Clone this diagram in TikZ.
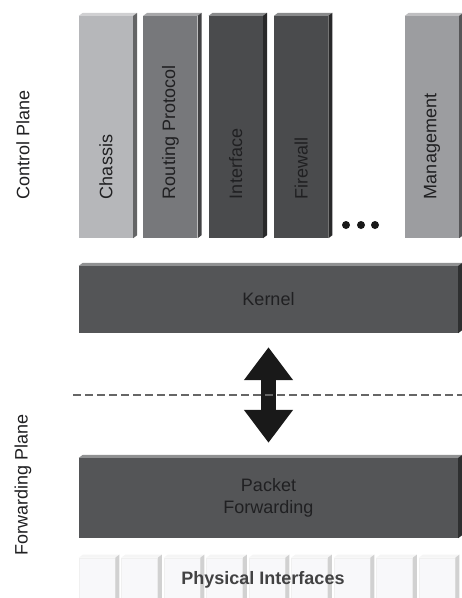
\documentclass[tikz,border=0pt]{standalone}
\usepackage{fontspec}
\setmainfont{Liberation Sans}
\usetikzlibrary{arrows.meta, positioning, calc}
\definecolor{clight}{HTML}{B6B7BA}
\definecolor{cmid}{HTML}{77787B}
\definecolor{cdark}{HTML}{4A4B4D}
\definecolor{cmgmt}{HTML}{9C9DA0}
\definecolor{ccore}{HTML}{545557}
\definecolor{ctile}{HTML}{F8F8FA}
\definecolor{ctext}{HTML}{202022}
\tikzset{
  every picture/.style={font=\fontsize{18}{22}\selectfont},
  slab/.style={fill=#1, inner sep=0pt, align=center},
  col/.style={slab=#1, minimum width=54pt, minimum height=222pt},
  wide/.style={slab=ccore, minimum width=379pt},
  lbl/.style={rotate=90, anchor=west, inner sep=0pt, text=ctext},
  plane/.style={rotate=90, text=ctext},
  fat/.style={draw=black!90, line width=15pt, {Triangle[length=33pt, width=47pt]}-{Triangle[length=33pt, width=47pt]}},
  divider/.style={draw=black!60, line width=2pt, dash pattern=on 8pt off 4pt},
}
% extruded top and right faces of a slab: node, top colour, side colour
\newcommand{\bevel}[3]{%
  \fill[#2] (#1.north west) -- ++(4,-3) -- ($(#1.north east)+(4,-3)$) -- (#1.north east) -- cycle;
  \fill[#3] (#1.north east) -- ++(4,-3) -- ($(#1.south east)+(4,-3)$) -- (#1.south east) -- cycle;
}

\begin{document}
\begin{tikzpicture}[x=1pt, y=-1pt, node distance=11pt]
  \useasboundingbox (0,0) rectangle (462,598);

  % control plane
  \node[col=clight] (chassis) at (106,127) {};
  \node[col=cmid, right=10pt of chassis] (routing) {};
  \node[col=cdark, right=of routing] (iface) {};
  \node[col=cdark, right=of iface] (firewall) {};
  \node[col=cmgmt] (mgmt) at (432,127) {};
  \foreach \n/\c in {chassis/clight, routing/cmid, iface/cdark, firewall/cdark, mgmt/cmgmt}
    \bevel{\n}{\c!65!white}{\c!55!black};
  \node[lbl] (lchassis) at ([yshift=39pt]chassis.south) {Chassis};
  \node[lbl] (lrouting) at ([yshift=39pt]routing.south) {Routing Protocol};
  \node[lbl] (liface) at ([yshift=39pt]iface.south) {Interface};
  \node[lbl] (lfirewall) at ([yshift=39pt]firewall.south) {Firewall};
  \node[lbl] (lmgmt) at ([yshift=39pt]mgmt.south) {Management};
  \foreach \x in {346,361,375}
    \fill[black!90] (\x,225) circle (4);

  \node[wide, minimum height=67pt] (kernel) at (268.5,299.5) {};
  \bevel{kernel}{ccore!65!white}{ccore!55!black};
  \node[text=ctext] (lkernel) at (kernel) {Kernel};

  % forwarding plane
  \node[wide, minimum height=80pt] (pf) at (268.5,498) {};
  \bevel{pf}{ccore!65!white}{ccore!55!black};
  \node[text=ctext, align=center] (lpf) at (pf) {Packet\\Forwarding};

  \coordinate (dl) at (73,395);
  \coordinate (dr) at (462,395);
  \draw[fat, shorten <=14pt, shorten >=15pt] (kernel.south) -- (pf.north);
  \draw[divider] (dl) -- (dr);

  % physical interfaces
  \foreach \i in {0,...,8} {
    \node[slab=ctile, draw=black!6, line width=0.6pt, minimum width=36pt, minimum height=44pt] (t\i) at (97+\i*42.5,580) {};
    \bevel{t\i}{black!4}{black!18}
  }
  \node[font=\fontsize{18}{22}\selectfont\bfseries, text=ctext!85!white] (phys) at (263,580) {Physical Interfaces};

  \node[plane] (cplane) at (23,145) {Control Plane};
  \node[plane] (fplane) at (23,485) {Forwarding Plane};
\end{tikzpicture}
\end{document}
